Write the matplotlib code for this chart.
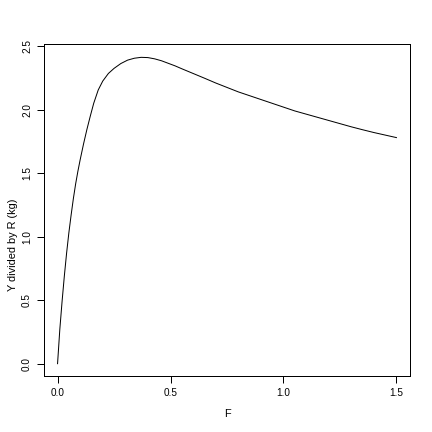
import matplotlib
matplotlib.use("Agg")
import matplotlib.pyplot as plt

# values (fishing mortality vs yield per recruit)
F = [0.0, 0.01, 0.02, 0.03, 0.04, 0.05, 0.06, 0.07, 0.08, 0.09,
     0.10, 0.115, 0.13, 0.145, 0.16, 0.18, 0.20, 0.225, 0.25, 0.28,
     0.31, 0.34, 0.37, 0.40, 0.43, 0.46, 0.49, 0.52, 0.55, 0.60,
     0.65, 0.70, 0.75, 0.80, 0.85, 0.90, 0.95, 1.00, 1.05, 1.10,
     1.15, 1.20, 1.25, 1.30, 1.35, 1.40, 1.45, 1.50]
YR = [0.0, 0.27, 0.49, 0.69, 0.87, 1.03, 1.17, 1.30, 1.415, 1.515,
      1.605, 1.73, 1.845, 1.95, 2.05, 2.155, 2.225, 2.285, 2.325, 2.363,
      2.39, 2.405, 2.412, 2.41, 2.40, 2.385, 2.365, 2.345, 2.322, 2.285,
      2.248, 2.21, 2.175, 2.14, 2.11, 2.08, 2.05, 2.02, 1.99, 1.965,
      1.94, 1.915, 1.89, 1.865, 1.842, 1.82, 1.80, 1.78]

x_ticks = [0.0, 0.5, 1.0, 1.5]
y_ticks = [0.0, 0.5, 1.0, 1.5, 2.0, 2.5]

plt.rcParams['font.family'] = ['Liberation Sans', 'DejaVu Sans']

fig = plt.figure(figsize=(6, 6), dpi=72)
ax = fig.add_axes([44 / 432, (432 - 376) / 432, (410 - 44) / 432, (376 - 44) / 432])

ax.plot(F, YR, color='black', linewidth=1)

ax.set_xlim(-0.06, 1.56)
ax.set_ylim(-0.097, 2.517)
ax.set_xticks(x_ticks)
ax.set_xticklabels([f"{v:.1f}" for v in x_ticks])
ax.set_yticks(y_ticks)
ax.set_yticklabels([f"{v:.1f}" for v in y_ticks], rotation=90, va='center')
ax.tick_params(direction='out', length=7, width=1, pad=5, labelsize=10, color='black')

for s in ax.spines.values():
    s.set_linewidth(1)

ax.set_xlabel("F", fontsize=11)
ax.set_ylabel("Y divided by R (kg)", fontsize=11)
ax.xaxis.set_label_coords(0.5, -(414 - 376) / 332, transform=ax.transAxes)
ax.yaxis.set_label_coords(-(44 - 13) / 366, (376 - 245) / 332, transform=ax.transAxes)
ax.xaxis.label.set_va('center')
ax.yaxis.label.set_va('center')

fig.savefig("out.png", dpi=72)
